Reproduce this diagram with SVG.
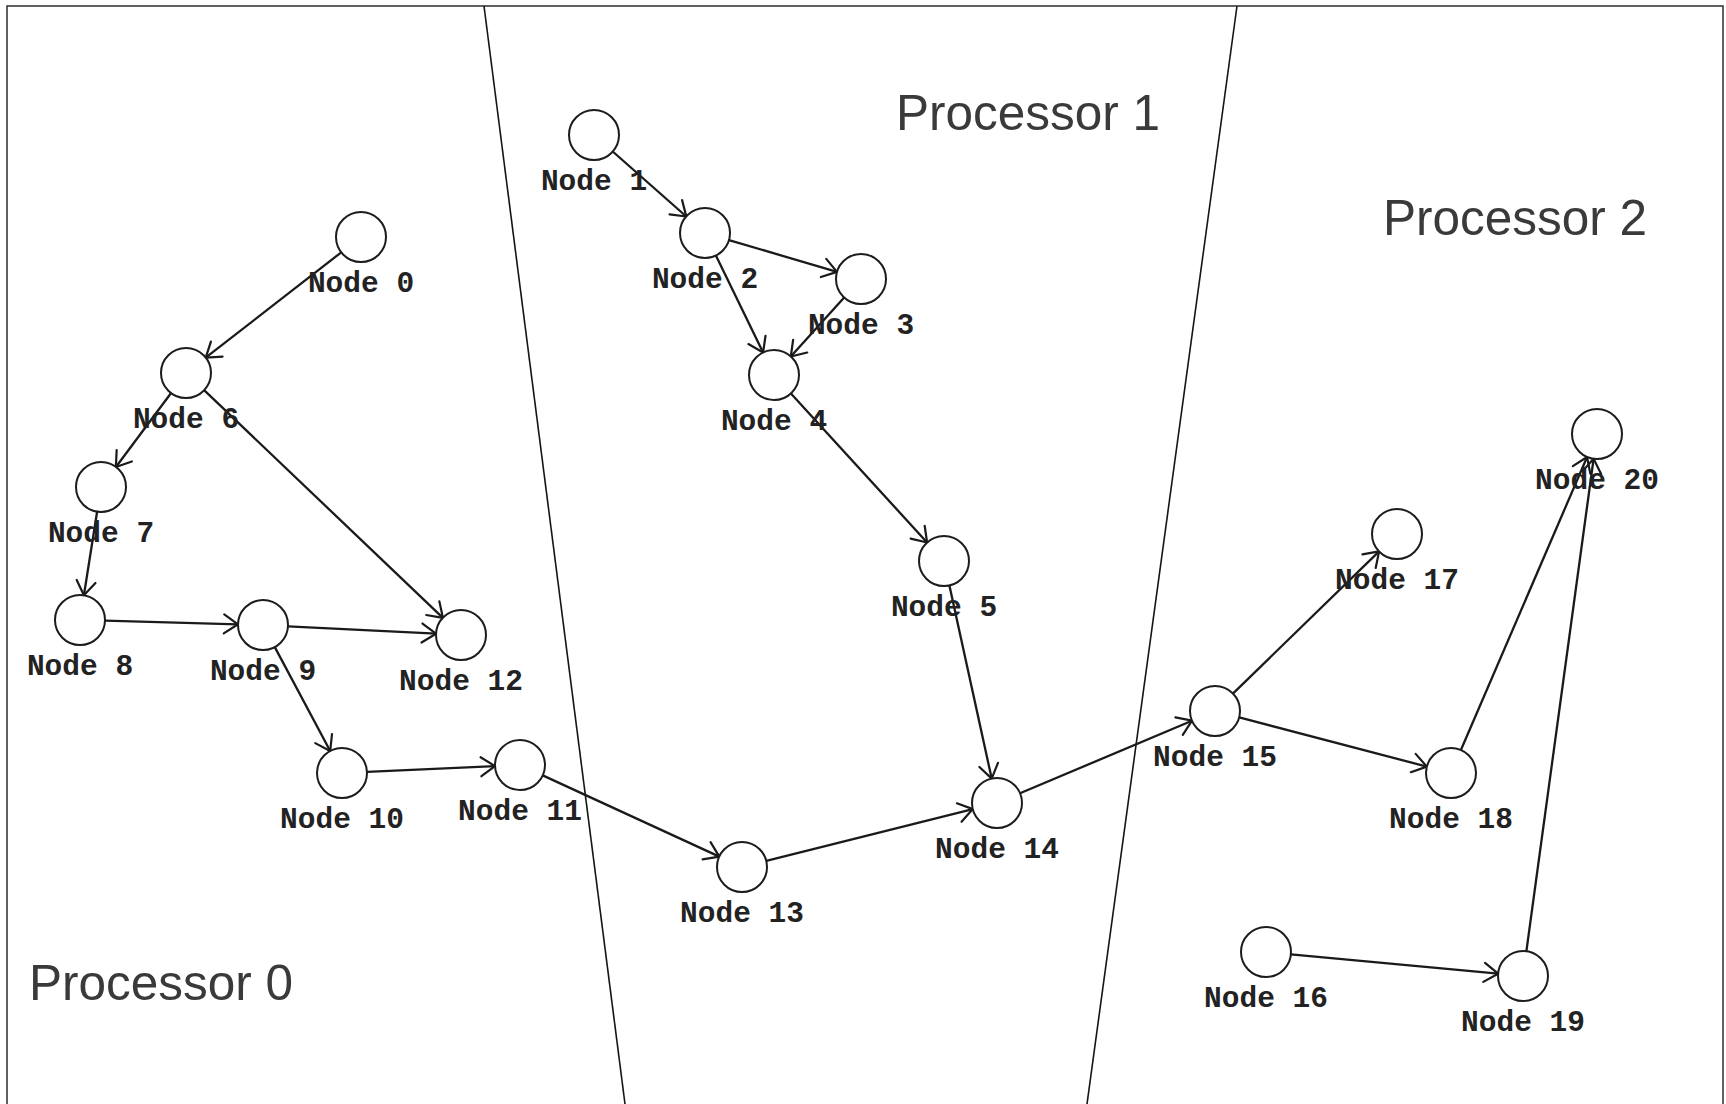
<svg xmlns="http://www.w3.org/2000/svg" width="1726" height="1104" viewBox="0 0 1726 1104">
  <style>
    .frame { fill: none; stroke: #3a3a3a; stroke-width: 1.6; }
    .divider { fill: none; stroke: #151515; stroke-width: 1.6; }
    .proc { font-family: "Liberation Sans", Arial, sans-serif; font-size: 49.5px; fill: #3a3a3a; }
    .node circle { fill: #ffffff; stroke: #1c1c1c; stroke-width: 2; }
    .node text { font-family: "Liberation Mono", "Courier New", monospace; font-weight: bold; font-size: 29.5px; fill: #222222; text-anchor: middle; }
    .edges line { stroke: #1a1a1a; stroke-width: 2.3; marker-end: url(#arrow); }
  </style>
  <defs>
    <marker id="arrow" markerUnits="userSpaceOnUse" viewBox="-16 -12 20 24" refX="0" refY="0" markerWidth="20" markerHeight="24" orient="auto" overflow="visible">
      <path d="M-14,-9.5 L0,0 L-14,9.5" fill="none" stroke="#1a1a1a" stroke-width="2.2" stroke-linecap="round" stroke-linejoin="round"/>
    </marker>
  </defs>

  <rect width="1726" height="1104" fill="#ffffff"/>

  <!-- outer frame (open at the bottom edge) -->
  <rect class="frame" x="7" y="6" width="1716" height="1200"/>

  <!-- partition boundaries between processors -->
  <g id="partitions">
    <line class="divider" x1="484" y1="6" x2="625" y2="1104"/>
    <line class="divider" x1="1237" y1="6" x2="1087" y2="1104"/>
  </g>

  <!-- processor captions -->
  <g id="captions">
    <text class="proc" x="29" y="1000">Processor 0</text>
    <text class="proc" x="896" y="130">Processor 1</text>
    <text class="proc" x="1383" y="235">Processor 2</text>
  </g>

  <!-- directed edges, drawn edge-to-edge between node circles (r = 25) -->
  <g id="connectors" class="edges">
    <line x1="341.3" y1="252.3" x2="205.7" y2="357.7"/>
    <line x1="171.1" y1="393.0" x2="115.9" y2="467.0"/>
    <line x1="204.1" y1="390.2" x2="442.9" y2="617.8"/>
    <line x1="97.1" y1="511.7" x2="83.9" y2="595.3"/>
    <line x1="105.0" y1="620.7" x2="238.0" y2="624.3"/>
    <line x1="288.0" y1="626.3" x2="436.0" y2="633.7"/>
    <line x1="274.8" y1="647.1" x2="330.2" y2="751.0"/>
    <line x1="367.0" y1="771.9" x2="495.0" y2="766.1"/>
    <line x1="542.7" y1="775.4" x2="719.3" y2="856.6"/>
    <line x1="766.3" y1="860.9" x2="972.8" y2="809.1"/>
    <line x1="612.7" y1="151.5" x2="686.3" y2="216.5"/>
    <line x1="729.0" y1="240.1" x2="837.0" y2="271.9"/>
    <line x1="715.9" y1="255.5" x2="763.1" y2="352.5"/>
    <line x1="844.2" y1="297.5" x2="790.8" y2="356.5"/>
    <line x1="790.9" y1="393.5" x2="927.1" y2="542.5"/>
    <line x1="949.4" y1="585.4" x2="991.7" y2="778.6"/>
    <line x1="1020.0" y1="793.3" x2="1192.0" y2="720.7"/>
    <line x1="1232.9" y1="693.6" x2="1379.1" y2="551.4"/>
    <line x1="1239.2" y1="717.4" x2="1426.8" y2="766.6"/>
    <line x1="1460.9" y1="750.0" x2="1587.1" y2="457.0"/>
    <line x1="1526.4" y1="951.2" x2="1593.6" y2="458.8"/>
    <line x1="1290.9" y1="954.3" x2="1498.1" y2="973.7"/>
  </g>

  <!-- task nodes -->
  <g id="node0" class="node"><circle cx="361" cy="237" r="25"/><text x="361" y="292">Node 0</text></g>
  <g id="node1" class="node"><circle cx="594" cy="135" r="25"/><text x="594" y="190">Node 1</text></g>
  <g id="node2" class="node"><circle cx="705" cy="233" r="25"/><text x="705" y="288">Node 2</text></g>
  <g id="node3" class="node"><circle cx="861" cy="279" r="25"/><text x="861" y="334">Node 3</text></g>
  <g id="node4" class="node"><circle cx="774" cy="375" r="25"/><text x="774" y="430">Node 4</text></g>
  <g id="node5" class="node"><circle cx="944" cy="561" r="25"/><text x="944" y="616">Node 5</text></g>
  <g id="node6" class="node"><circle cx="186" cy="373" r="25"/><text x="186" y="428">Node 6</text></g>
  <g id="node7" class="node"><circle cx="101" cy="487" r="25"/><text x="101" y="542">Node 7</text></g>
  <g id="node8" class="node"><circle cx="80" cy="620" r="25"/><text x="80" y="675">Node 8</text></g>
  <g id="node9" class="node"><circle cx="263" cy="625" r="25"/><text x="263" y="680">Node 9</text></g>
  <g id="node10" class="node"><circle cx="342" cy="773" r="25"/><text x="342" y="828">Node 10</text></g>
  <g id="node11" class="node"><circle cx="520" cy="765" r="25"/><text x="520" y="820">Node 11</text></g>
  <g id="node12" class="node"><circle cx="461" cy="635" r="25"/><text x="461" y="690">Node 12</text></g>
  <g id="node13" class="node"><circle cx="742" cy="867" r="25"/><text x="742" y="922">Node 13</text></g>
  <g id="node14" class="node"><circle cx="997" cy="803" r="25"/><text x="997" y="858">Node 14</text></g>
  <g id="node15" class="node"><circle cx="1215" cy="711" r="25"/><text x="1215" y="766">Node 15</text></g>
  <g id="node16" class="node"><circle cx="1266" cy="952" r="25"/><text x="1266" y="1007">Node 16</text></g>
  <g id="node17" class="node"><circle cx="1397" cy="534" r="25"/><text x="1397" y="589">Node 17</text></g>
  <g id="node18" class="node"><circle cx="1451" cy="773" r="25"/><text x="1451" y="828">Node 18</text></g>
  <g id="node19" class="node"><circle cx="1523" cy="976" r="25"/><text x="1523" y="1031">Node 19</text></g>
  <g id="node20" class="node"><circle cx="1597" cy="434" r="25"/><text x="1597" y="489">Node 20</text></g>
</svg>
